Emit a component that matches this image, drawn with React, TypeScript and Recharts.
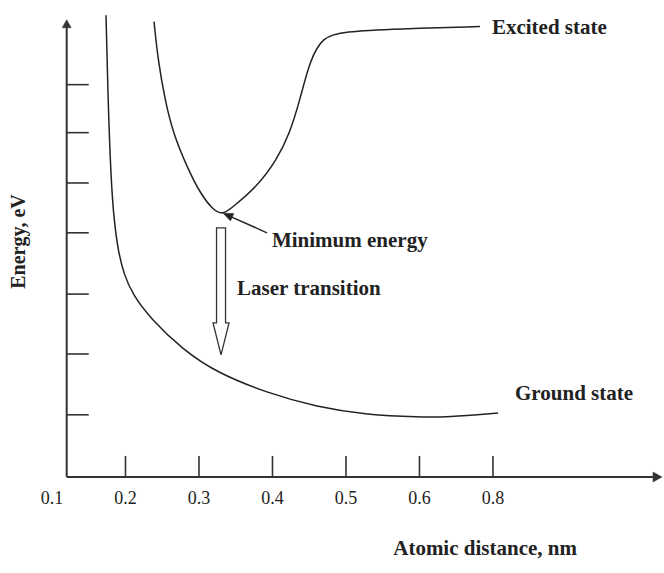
import React from 'react';
import { LineChart, Line, XAxis, YAxis, ReferenceLine, ReferenceDot } from 'recharts';

// ---- axis ticks (irregular, schematic axis) ----
const xTickValues = [0.1, 0.2, 0.3, 0.4, 0.5, 0.6, 0.7];
const xTickLabels = ['0.1', '0.2', '0.3', '0.4', '0.5', '0.6', '0.8'];
const xMarkValues = [0.2, 0.3, 0.4, 0.5, 0.6, 0.7];
const yMarkValues = [1.36, 2.69, 4.0, 5.34, 6.43, 7.53, 8.58];

// ---- ground state curve ----
const groundX = [0.1735, 0.1762, 0.1803, 0.1844, 0.1898, 0.198, 0.2102, 0.2333, 0.2782, 0.3245, 0.3925, 0.4605, 0.5286, 0.6007, 0.6374, 0.7068];
const groundY = [10.1, 8.25, 6.49, 5.62, 4.96, 4.42, 3.98, 3.48, 2.78, 2.28, 1.84, 1.53, 1.36, 1.31, 1.31, 1.4];

// ---- excited state curve ----
const excitedX = [0.2388, 0.2442, 0.2537, 0.2646, 0.2837, 0.3014, 0.319, 0.3327, 0.3463, 0.3789, 0.4061, 0.4238, 0.4374, 0.451, 0.4687, 0.4959, 0.5694, 0.6823];
const excitedY = [9.96, 9.12, 8.25, 7.53, 6.78, 6.21, 5.84, 5.73, 5.91, 6.35, 6.94, 7.53, 8.25, 9.12, 9.63, 9.74, 9.8, 9.85];

// ---- annotations ----
const axisOriginX = 0.12;
const xAxisEnd = 0.93;
const yAxisEnd = 10.0;
const minArrowFrom = { x: 0.3925, y: 5.34 };
const minArrowTo = { x: 0.3327, y: 5.77 };
const laserFrom = { x: 0.33, y: 5.45 };
const laserTo = { x: 0.33, y: 2.67 };
const textLabels = [
  { text: 'Excited state', x: 0.6986, y: 9.84 },
  { text: 'Minimum energy', x: 0.3993, y: 5.18 },
  { text: 'Laser transition', x: 0.3517, y: 4.15 },
  { text: 'Ground state', x: 0.73, y: 1.84 },
];
const xTitle = 'Atomic distance, nm';
const yTitle = 'Energy, eV';

const groundData = groundX.map((x, i) => ({ x, y: groundY[i] }));
const excitedData = excitedX.map((x, i) => ({ x, y: excitedY[i] }));

const FONT = 'Liberation Serif, Times New Roman, serif';
const INK = '#222';
const AXIS = '#333';

const arrowShape = (headLen: number, headHalf: number, color: string, width: number) => (p: any) => {
  const { x1, y1, x2, y2 } = p;
  const dx = x2 - x1;
  const dy = y2 - y1;
  const len = Math.hypot(dx, dy) || 1;
  const ux = dx / len;
  const uy = dy / len;
  const bx = x2 - ux * headLen;
  const by = y2 - uy * headLen;
  const px = -uy;
  const py = ux;
  return (
    <g>
      <line x1={x1} y1={y1} x2={bx + ux * 1} y2={by + uy * 1} stroke={color} strokeWidth={width} />
      <polygon
        points={`${x2},${y2} ${bx + px * headHalf},${by + py * headHalf} ${bx - px * headHalf},${by - py * headHalf}`}
        fill={color}
        stroke={color}
        strokeWidth={0.5}
      />
    </g>
  );
};

const hollowArrowShape = (p: any) => {
  const { x1, y1, x2, y2 } = p;
  const shaftHalf = 4.5;
  const headHalf = 8;
  const headLen = 32;
  const yb = y2 - headLen;
  const pts = [
    [x1 - shaftHalf, y1],
    [x1 + shaftHalf, y1],
    [x1 + shaftHalf, yb],
    [x1 + headHalf, yb],
    [x2, y2],
    [x1 - headHalf, yb],
    [x1 - shaftHalf, yb],
  ]
    .map((q) => q.join(','))
    .join(' ');
  return <polygon points={pts} fill="#fff" stroke={AXIS} strokeWidth={1.3} />;
};

const textShape = (text: string) => (p: any) => (
  <text
    x={p.cx}
    y={p.cy}
    dy="0.35em"
    textAnchor="start"
    fontFamily={FONT}
    fontWeight="bold"
    fontSize={21}
    fill={INK}
  >
    {text}
  </text>
);

const renderXTitle = (props: any) => {
  const vb = props.viewBox;
  return (
    <text
      x={vb.x + vb.width * 0.71}
      y={vb.y + 71}
      dy="0.35em"
      textAnchor="middle"
      fontFamily={FONT}
      fontWeight="bold"
      fontSize={21}
      fill={INK}
    >
      {xTitle}
    </text>
  );
};

const renderYTitle = (props: any) => {
  const vb = props.viewBox;
  const cx = vb.x + 18;
  const cy = vb.y + vb.height / 2;
  return (
    <text
      x={cx}
      y={cy}
      dy="0.35em"
      textAnchor="middle"
      transform={`rotate(-90, ${cx}, ${cy})`}
      fontFamily={FONT}
      fontWeight="bold"
      fontSize={20}
      fill={INK}
    >
      {yTitle}
    </text>
  );
};

export default function App() {
  return (
    <div style={{ position: 'absolute', left: 0, top: 0, width: 664, height: 573, background: '#fff' }}>
      <LineChart width={664} height={573} margin={{ top: 6, right: 2, bottom: 0, left: 0 }}>
        <XAxis
          type="number"
          dataKey="x"
          domain={[0.1, xAxisEnd]}
          allowDataOverflow
          ticks={xTickValues}
          interval={0}
          axisLine={false}
          tickLine={false}
          tickSize={0}
          tickMargin={14}
          height={96}
          tick={{ fill: INK, fontSize: 18, fontFamily: FONT }}
          tickFormatter={(v: number, i: number) => xTickLabels[i]}
          label={{ content: renderXTitle }}
        />
        <YAxis
          type="number"
          dataKey="y"
          domain={[0, 10.3]}
          allowDataOverflow
          width={52}
          tick={false}
          axisLine={false}
          tickLine={false}
          label={{ content: renderYTitle }}
        />

        {/* axes with arrowheads */}
        <ReferenceLine
          segment={[{ x: axisOriginX, y: 0 }, { x: xAxisEnd, y: 0 }]}
          shape={arrowShape(9, 5, AXIS, 2)}
          ifOverflow="visible"
        />
        <ReferenceLine
          segment={[{ x: axisOriginX, y: 0 }, { x: axisOriginX, y: yAxisEnd }]}
          shape={arrowShape(8, 4.5, AXIS, 2)}
          ifOverflow="visible"
        />
        {xMarkValues.map((v) => (
          <ReferenceLine
            key={`xm${v}`}
            segment={[{ x: v, y: 0 }, { x: v, y: 0.46 }]}
            stroke={AXIS}
            strokeWidth={1.6}
            ifOverflow="visible"
          />
        ))}
        {yMarkValues.map((v) => (
          <ReferenceLine
            key={`ym${v}`}
            segment={[{ x: axisOriginX, y: v }, { x: axisOriginX + 0.03, y: v }]}
            stroke={AXIS}
            strokeWidth={1.6}
            ifOverflow="visible"
          />
        ))}

        <Line
          data={groundData}
          dataKey="y"
          type="basis"
          stroke={INK}
          strokeWidth={1.5}
          dot={false}
          activeDot={false}
          isAnimationActive={false}
        />
        <Line
          data={excitedData}
          dataKey="y"
          type="basis"
          stroke={INK}
          strokeWidth={1.5}
          dot={false}
          activeDot={false}
          isAnimationActive={false}
        />

        <ReferenceLine
          segment={[minArrowFrom, minArrowTo]}
          shape={arrowShape(10, 4, INK, 1.5)}
          ifOverflow="visible"
        />
        <ReferenceLine segment={[laserFrom, laserTo]} shape={hollowArrowShape} ifOverflow="visible" />

        {textLabels.map((t) => (
          <ReferenceDot key={t.text} x={t.x} y={t.y} r={0} shape={textShape(t.text)} ifOverflow="visible" />
        ))}
      </LineChart>
    </div>
  );
}
